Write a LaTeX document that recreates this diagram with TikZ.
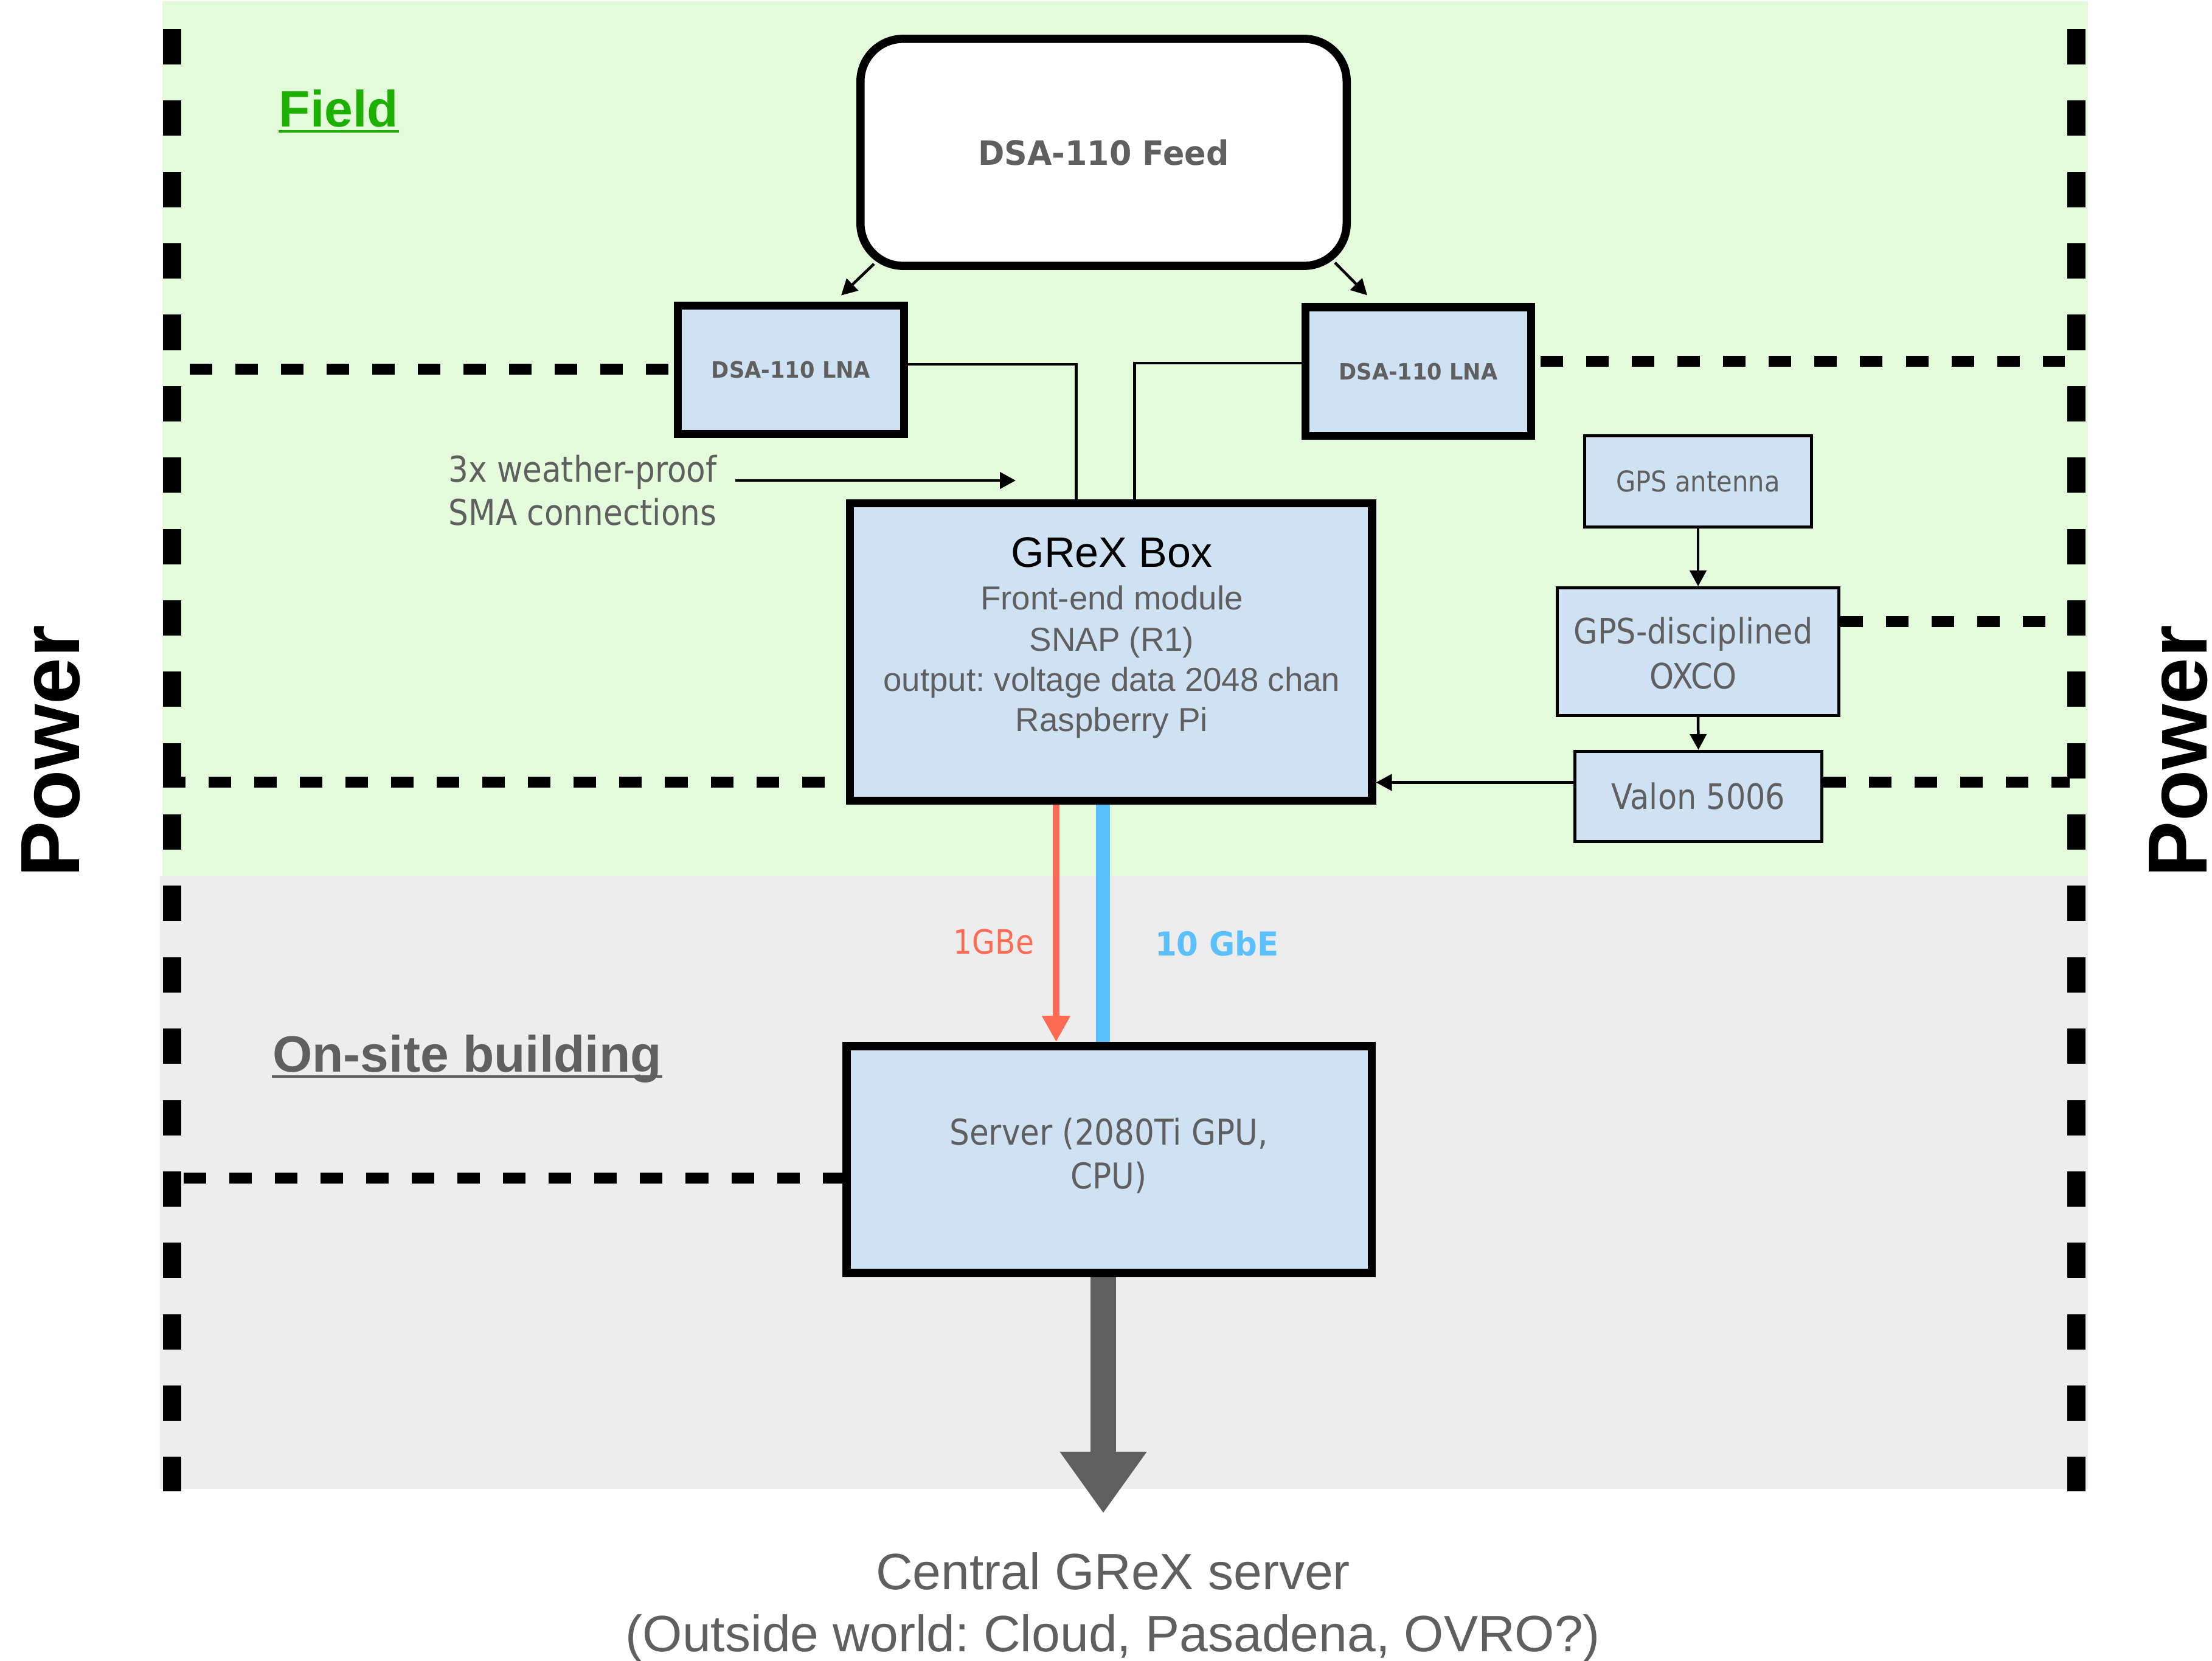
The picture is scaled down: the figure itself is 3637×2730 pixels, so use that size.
\documentclass[tikz,border=0pt]{standalone}
\usepackage{fontspec}
\setmainfont{Liberation Sans}
\newfontfamily\tahoma[FakeStretch=0.885]{DejaVu Sans}
\newfontfamily\tahomabf[FakeStretch=0.95]{DejaVu Sans}
\usetikzlibrary{arrows.meta,calc}

\definecolor{fieldbg}{HTML}{E3FBDA}
\definecolor{sitebg}{HTML}{EDEDED}
\definecolor{boxblue}{HTML}{CFE2F3}
\definecolor{ink}{HTML}{5F5F5F}
\definecolor{fieldgreen}{HTML}{1EB000}
\definecolor{gbe}{HTML}{FF6A55}
\definecolor{tengbe}{HTML}{5AC0FF}

\newcommand\setfs[1]{\fontsize{#1pt}{1.2\dimexpr#1pt\relax}\selectfont}

\tikzset{
  big box/.style={draw=black, fill=boxblue, line width=0.135cm, inner sep=0pt},
  small box/.style={draw=black, fill=boxblue, line width=0.055cm, inner sep=0pt},
  wire/.style={draw=black, line width=0.042cm},
  sig/.style={draw=black, line width=0.045cm, -{Triangle[length=0.26cm,width=0.27cm]}},
  power line/.style={line width=0.185cm, dash pattern=on 0.37cm off 0.38cm},
  boundary/.style={line width=0.30cm, dash pattern=on 0.58cm off 0.593cm},
  lbl/.style={inner sep=0pt, anchor=base},
}

\begin{document}
\frenchspacing
\begin{tikzpicture}[x=0.01cm, y=-0.01cm]
\useasboundingbox (0,0) rectangle (3637,2730);

% zones
\fill[fieldbg] (267,2) rectangle (3433,1440);
\fill[sitebg] (263,1440) rectangle (3433,2448);

% power boundaries
\draw[boundary] (283,48) -- (283,2452);
\draw[boundary] (3413.5,48) -- (3413.5,2452);

% boxes
\node[big box, fill=white, rounded corners=0.7cm, minimum width=7.99cm, minimum height=3.73cm,
      font=\tahomabf\bfseries\setfs{15.65}, text=ink] (feed) at (1814.5,250.5) {DSA-110 Feed};
\node[big box, minimum width=3.72cm, minimum height=2.11cm,
      font=\tahomabf\bfseries\setfs{10.53}, text=ink] (lnaL) at (1300.5,608) {DSA-110 LNA};
\node[big box, minimum width=3.705cm, minimum height=2.11cm,
      font=\tahomabf\bfseries\setfs{10.53}, text=ink] (lnaR) at (2332,610.75) {DSA-110 LNA};
\node[big box, minimum width=8.58cm, minimum height=4.89cm] (grex) at (1826.5,1072) {};
\node[big box, minimum width=8.63cm, minimum height=3.73cm] (server) at (1823.5,1906.5) {};
\node[small box, minimum width=3.725cm, minimum height=1.495cm,
      font=\tahoma\setfs{13.37}, text=ink] (gps) at (2792,791.5) {GPS antenna};
\node[small box, minimum width=4.625cm, minimum height=2.095cm] (oxco) at (2792,1071.5) {};
\node[small box, minimum width=4.055cm, minimum height=1.475cm,
      font=\tahoma\setfs{16.36}, text=ink] (valon) at (2792.5,1309.5) {Valon 5006};

% power feeds
\coordinate (pLna) at (312,607);
\draw[power line] (pLna) -- (pLna -| lnaL.west);
\coordinate (pGrex) at (268,1286);
\draw[power line] (pGrex) -- (pGrex -| grex.west);
\coordinate (pSrv) at (302,1937);
\draw[power line] (pSrv) -- (pSrv -| server.west);
\coordinate (pLnaR) at (3395,594);
\draw[power line] ($(pLnaR -| lnaR.east)+(9,0)$) -- (pLnaR);
\coordinate (pOsc) at (3363,1022);
\draw[power line] (pOsc -| oxco.east) -- (pOsc);
\coordinate (pVal) at (3403,1286);
\draw[power line] (pVal -| valon.east) -- (pVal);

% feed to LNAs
\draw[sig] ($(feed.south west)+(29,-10)$) -- ($(lnaL.north)+(82.5,-10)$);
\draw[sig] ($(feed.south east)+(-26,-12)$) -- ($(lnaR.north)+(-84,-13)$);

% LNAs to GReX box
\draw[wire] ($(lnaL.east)+(0,-9)$) -| ($(grex.north west)+(379,0)$);
\draw[wire] ($(lnaR.west)+(0,-14)$) -| ($(grex.north west)+(475,0)$);

% timing chain
\draw[sig] (gps.south) -- (oxco.north);
\draw[sig] (oxco.south) -- (valon.north);
\coordinate (vOut) at ($(valon.west)+(0,-23)$);
\draw[sig] (vOut) -- (vOut -| grex.east);

% GReX box text
\node[lbl, font=\setfs{19.92}] (grexT) at (1828,932) {GReX Box};
\node[lbl, font=\setfs{15.55}, text=ink] (grexA) at (1828,1002) {Front-end module};
\node[lbl, font=\setfs{15.55}, text=ink] (grexB) at (1828,1070) {SNAP (R1)};
\node[lbl, font=\setfs{15.55}, text=ink] (grexC) at (1828,1136) {output: voltage data 2048 chan};
\node[lbl, font=\setfs{15.55}, text=ink] (grexD) at (1828,1202) {Raspberry Pi};

% oscillator and server text
\node[lbl, font=\tahoma\setfs{16.36}, text=ink] (oxcoA) at (2784,1058) {GPS-disciplined};
\node[lbl, font=\tahoma\setfs{16.36}, text=ink] (oxcoB) at (2784,1132) {OXCO};
\node[lbl, font=\tahoma\setfs{16.6}, text=ink] (srvA) at (1823,1882) {Server (2080Ti GPU,};
\node[lbl, font=\tahoma\setfs{16.6}, text=ink] (srvB) at (1823,1954) {CPU)};

% SMA note
\node[lbl, font=\tahoma\setfs{16.6}, text=ink] (wpA) at (958,792) {3x weather-proof};
\node[lbl, font=\tahoma\setfs{16.6}, text=ink] (wpB) at (958,863) {SMA connections};
\coordinate (smaTip) at (1670,790);
\draw[sig] ($(wpA.base east)+(30,-2)$) -- (smaTip);

% data links
\coordinate (r1) at ($(grex.south west)+(346,0)$);
\draw[gbe, line width=0.11cm, -{Triangle[length=0.43cm,width=0.44cm]}] (r1) -- (r1 |- server.north);
\coordinate (b1) at ($(grex.south west)+(423,0)$);
\draw[tengbe, line width=0.23cm] (b1) -- (b1 |- server.north);
\node[lbl, font=\tahoma\setfs{15.65}, text=gbe] (gbeL) at (1634,1568) {1GBe};
\node[lbl, font=\tahomabf\bfseries\setfs{15.4}, text=tengbe] (tenL) at (2001,1571) {10 GbE};

% uplink
\coordinate (s1) at ($(server.south west)+(429,0)$);
\coordinate (upTip) at ($(s1)+(0,388)$);
\draw[ink, line width=0.42cm, -{Triangle[length=1.01cm,width=1.36cm]}] (s1) -- (upTip);
\node[lbl, font=\setfs{23.9}, text=ink] (cenA) at (1830,2613) {Central GReX server};
\node[lbl, font=\setfs{23.9}, text=ink] (cenB) at (1830,2715) {(Outside world: Cloud, Pasadena, OVRO?)};

% zone titles
\node[lbl, font=\bfseries\setfs{23.9}, text=fieldgreen] (field) at (557,208) {Field};
\draw[fieldgreen, line width=0.04cm] ($(field.base west)+(0,8)$) -- ($(field.base east)+(0,8)$);
\node[lbl, font=\bfseries\setfs{23.9}, text=ink] (site) at (768,1762) {On-site building};
\draw[ink, line width=0.04cm] ($(site.base west)+(0,8)$) -- ($(site.base east)+(0,8)$);

% power labels
\node[inner sep=0pt, anchor=base west, rotate=90, font=\bfseries\setfs{39.26}] (powL) at (130,1443) {Power};
\node[inner sep=0pt, anchor=base west, rotate=90, font=\bfseries\setfs{39.26}] (powR) at (3628,1443) {Power};
\end{tikzpicture}
\end{document}
